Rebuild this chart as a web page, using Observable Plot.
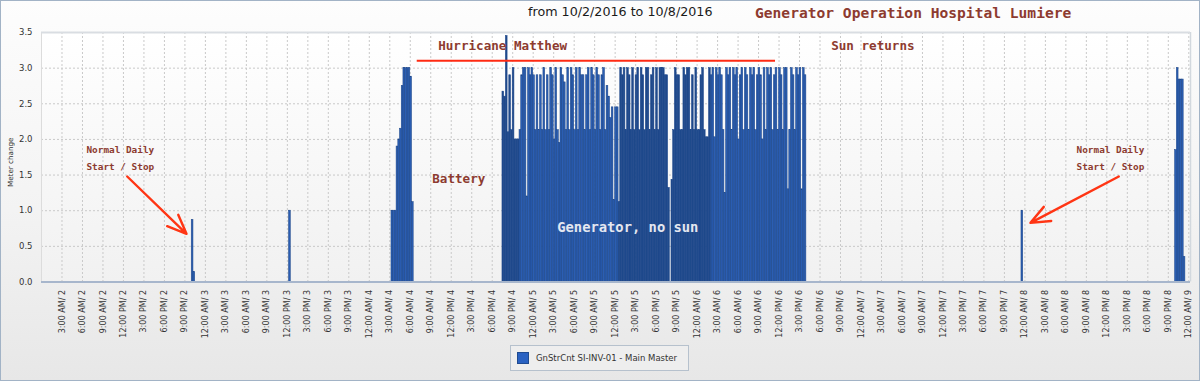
<!DOCTYPE html>
<html>
<head>
<meta charset="utf-8">
<script src="https://cdn.jsdelivr.net/npm/d3@7"></script>
<script src="https://cdn.jsdelivr.net/npm/@observablehq/plot@0.6"></script>
<style>
  html, body { margin: 0; padding: 0; background: #f3f3f3; }
  #wrap { position: relative; width: 1200px; height: 381px; overflow: hidden;
    background: linear-gradient(to bottom, #fdfdfd 0%, #f3f3f3 55%, #e7e7e7 100%); }
  #wrap svg { position: absolute; left: 0; top: 0; }
  .border { position: absolute; left: 0; top: 0; width: 1200px; height: 381px; box-sizing: border-box;
    border: 1px solid #a2b3c6; pointer-events: none; }
  .sub { position: absolute; left: 528px; top: 4px; font: 12.7px "DejaVu Sans", sans-serif; color: #1a1a1a; white-space: nowrap; }
  .main { position: absolute; left: 755px; top: 4px; font: bold 14.6px "DejaVu Sans Mono", monospace; color: #8d3b30; white-space: nowrap; }
  .legend { position: absolute; left: 510px; top: 345px; width: 179px; height: 26px; box-sizing: border-box;
    border: 1px solid #b6c1cd; background: #eeeeee; }
  .legend .sw { position: absolute; left: 6px; top: 6px; width: 12px; height: 12px; box-sizing: border-box;
    background: #2a62c2; border: 1px solid #1f4b91; }
  .legend .lb { position: absolute; left: 25px; top: 5px; font: 8.5px "DejaVu Sans", sans-serif; color: #333; white-space: nowrap; line-height: 14px; }
</style>
</head>
<body>
<div id="wrap">
  <div class="sub">from 10/2/2016 to 10/8/2016</div>
  <div class="main">Generator Operation Hospital Lumiere</div>
  <div class="legend"><div class="sw"></div><div class="lb">GnStrCnt SI-INV-01 - Main Master</div></div>
  <div class="border"></div>
</div>
<script>
// ---- data: 15-minute meter changes, one array per run of readings ----
const seriesName = "GnStrCnt SI-INV-01 - Main Master";
const runStarts = ["2016-10-02T22:00", "2016-10-03T12:15", "2016-10-04T03:15", "2016-10-04T19:30", "2016-10-07T23:30", "2016-10-08T22:00"];
const oct2Stop = [0.87, 0.14];
const oct3Blip = [1.0];
const batteryRun = [1.0, 1.0, 1.0, 1.9, 2.0, 2.15, 2.75, 3.0, 3.0, 3.0, 3.0, 2.88, 1.12];
const hurricaneRun = [
  2.67, 2.6, 3.45, 2.1, 2.9, 2.13, 3.0, 2.0, 2.0, 2.0, 2.13,
  2.9, 3.0, 3.0, 1.2, 3.0, 2.9, 3.0, 2.9, 2.13, 2.9,
  2.13, 2.9, 2.13, 3.0, 2.13, 2.9, 2.13, 3.0, 2.9, 2.0,
  3.0, 2.13, 1.95, 3.0, 2.9, 2.8, 2.13, 3.0, 2.13, 3.0,
  2.9, 2.13, 3.0, 2.13, 3.0, 2.9, 2.9, 2.13, 2.9, 3.0,
  2.13, 3.0, 2.9, 2.13, 3.0, 2.9, 2.13, 2.9, 3.0, 2.13, 2.75,
  2.6, 2.3, 2.45, 1.15, 2.45, 2.45,
  1.12, 3.0, 2.9, 3.0, 2.13, 3.0, 2.9, 2.13, 3.0, 2.13, 2.9, 3.0, 2.13,
  3.0, 2.9, 2.13, 3.0, 3.0, 2.13, 2.9, 3.0, 2.13, 3.0, 2.13, 3.0, 3.0, 3.0, 2.9, 2.9, 1.32,
  0, 1.43,
  2.13, 3.0, 2.9, 2.9, 2.13, 2.13, 3.0, 2.9, 3.0, 3.0, 2.13, 2.9, 2.13, 3.0, 2.13, 2.13, 2.9, 3.0, 2.13, 2.03, 2.03, 3.0,
  2.9, 3.0, 2.03, 3.0, 2.9, 3.0, 2.9, 2.13, 1.25, 3.0, 2.9, 3.0, 2.13, 3.0, 2.9, 3.0, 2.0, 2.9, 3.0, 2.13,
  3.0, 2.9, 2.13, 3.0, 2.9, 3.0, 2.13, 2.9, 3.0, 2.9, 2.0, 3.0, 2.13, 3.0, 2.9, 3.0, 2.13, 2.9, 3.0, 2.13,
  3.0, 2.9, 2.13, 3.0, 3.0, 1.3, 2.13, 3.0, 2.9, 2.13, 3.0, 2.9, 3.0, 1.3, 3.0, 2.9
];
const oct7Stop = [1.0];
const oct8Start = [1.85, 3.0, 2.84, 2.84, 2.84, 0.35];
const runValues = [oct2Stop, oct3Blip, batteryRun, hurricaneRun, oct7Stop, oct8Start];
// periods where readings overlap (drawn darker in the source chart)
const denseSpans = [["2016-10-04T19:30", "2016-10-04T22:00"], ["2016-10-05T12:30", "2016-10-06T02:00"]];

const yTicks = [0, 0.5, 1.0, 1.5, 2.0, 2.5, 3.0, 3.5];
const xTickHours = d3.range(3, 169, 3); // 3:00 AM/2 ... 12:00 AM/9

// annotations (data coordinates)
const labels = [
  {t: "2016-10-04T10:05", v: 3.317, text: "Hurricane Matthew", kind: "red"},
  {t: "2016-10-06T19:38", v: 3.317, text: "Sun returns", kind: "red"},
  {t: "2016-10-04T09:13", v: 1.452, text: "Battery", kind: "red"},
  {t: "2016-10-05T03:31", v: 0.760, text: "Generator, no sun", kind: "white"},
  {t: "2016-10-02T06:35", v: 1.765, text: "Normal Daily\nStart / Stop", kind: "small"},
  {t: "2016-10-08T07:34", v: 1.765, text: "Normal Daily\nStart / Stop", kind: "small"}
];
const hurricaneSpan = [{from: "2016-10-04T07:01", to: "2016-10-06T11:29", v: 3.103}];
const arrows = [
  {t1: "2016-10-02T12:33", v1: 1.48, t2: "2016-10-02T21:14", v2: 0.676},
  {t1: "2016-10-08T13:45", v1: 1.48, t2: "2016-10-08T00:49", v2: 0.83}
];

// ---- build ----
const U = (s) => new Date(s + ":00Z");
const Q = 15 * 60 * 1000;
const bars = runStarts.flatMap((s, k) => runValues[k].map((v, i) => ({t: new Date(+U(s) + i * Q), v})));
bars.forEach(d => d.t2 = new Date(+d.t + Q));
const spans = denseSpans.map(([a, b]) => [+U(a), +U(b)]);
const isDense = d => spans.some(([a, b]) => +d.t >= a && +d.t < b);

const t0 = Date.UTC(2016, 9, 2, 0, 0);
const xTicks = xTickHours.map(h => new Date(t0 + h * 3600e3));
const fmt = d => {
  const h = d.getUTCHours();
  const h12 = h % 12 === 0 ? 12 : h % 12;
  return `${h12}:00 ${h < 12 ? "AM" : "PM"}/ ${d.getUTCDate()}`;
};

const labelData = labels.map(d => ({...d, t: U(d.t)}));
const spanData = hurricaneSpan.map(d => ({...d, from: U(d.from), to: U(d.to)}));
const arrowData = arrows.map(d => ({...d, t1: U(d.t1), t2: U(d.t2)}));

const chart = Plot.plot({
  width: 1200,
  height: 381,
  marginLeft: 41,
  marginRight: 10,
  marginTop: 32,
  marginBottom: 99.5,
  x: {type: "utc", domain: [new Date(t0), new Date(t0 + 168.25 * 3600e3)]},
  y: {domain: [0, 3.5]},
  style: {background: "transparent", fontFamily: "DejaVu Sans, sans-serif", color: "#333", overflow: "visible"},
  marks: [
    Plot.frame({fill: "#ffffff", stroke: "none"}),
    Plot.gridX({ticks: xTicks, stroke: "#c9c9c9", strokeOpacity: 1, strokeDasharray: "2,2"}),
    Plot.gridY({ticks: yTicks, stroke: "#c9c9c9", strokeOpacity: 1, strokeDasharray: "2,2"}),
    Plot.ruleX([new Date(t0)], {stroke: "#dcdcdc"}),
    Plot.ruleX([new Date(t0 + 168.25 * 3600e3)], {stroke: "#d2d8de", strokeWidth: 1.5}),
    Plot.ruleY([3.5], {stroke: "#d9dde2", strokeWidth: 2}),
    Plot.rectY(bars, {filter: d => !isDense(d), x1: "t", x2: "t2", y: "v", fill: "#2b5eb3", stroke: "#1d478a", strokeWidth: 0.55}),
    Plot.rectY(bars, {filter: isDense, x1: "t", x2: "t2", y: "v", fill: "#1f4a8c", stroke: "#1d468a", strokeWidth: 0.55}),
    Plot.ruleY([0], {stroke: "#a7b6cc", strokeWidth: 2}),
    Plot.ruleY(spanData, {x1: "from", x2: "to", y: "v", stroke: "#ff2a12", strokeWidth: 2}),
    Plot.arrow(arrowData, {x1: "t1", y1: "v1", x2: "t2", y2: "v2", stroke: "#ff3514", strokeWidth: 2.4, headLength: 13, headAngle: 45}),
    Plot.text(labelData.filter(d => d.kind === "red"), {x: "t", y: "v", text: "text", textAnchor: "start", fill: "#8d3b30", fontFamily: "DejaVu Sans Mono, monospace", fontWeight: "bold", fontSize: 12.6}),
    Plot.text(labelData.filter(d => d.kind === "white"), {x: "t", y: "v", text: "text", textAnchor: "start", fill: "#e4e7f0", fontFamily: "DejaVu Sans Mono, monospace", fontWeight: "bold", fontSize: 13.8}),
    Plot.text(labelData.filter(d => d.kind === "small"), {x: "t", y: "v", text: "text", textAnchor: "start", fill: "#8d3b30", fontFamily: "DejaVu Sans Mono, monospace", fontWeight: "bold", fontSize: 9.4, lineHeight: 1.78}),
    Plot.axisX({ticks: xTicks, tickFormat: fmt, tickRotate: -90, tickSize: 0, tickPadding: 8, fontSize: 8, label: null, fill: "#333"}),
    Plot.axisY({ticks: yTicks, tickFormat: d3.format(".1f"), tickSize: 0, tickPadding: 9, fontSize: 8.5, label: null, fill: "#333"}),
    Plot.text(["Meter change"], {frameAnchor: "left", textAnchor: "middle", rotate: -90, dx: -31, dy: 5, fontSize: 7.2, fill: "#333"})
  ]
});

// plot-area gradient fill
const ns = "http://www.w3.org/2000/svg";
const defs = document.createElementNS(ns, "defs");
defs.innerHTML = '<linearGradient id="pbg" x1="0" y1="0" x2="0" y2="1"><stop offset="0" stop-color="#ffffff"/><stop offset="1" stop-color="#f1f1f1"/></linearGradient>';
chart.insertBefore(defs, chart.firstChild);
const fr = chart.querySelector('[aria-label="frame"]');
if (fr) { (fr.tagName.toLowerCase() === "rect" ? fr : fr.querySelector("rect")).setAttribute("fill", "url(#pbg)"); }

const wrap = document.getElementById("wrap");
wrap.insertBefore(chart, wrap.firstChild);
</script>
</body>
</html>
